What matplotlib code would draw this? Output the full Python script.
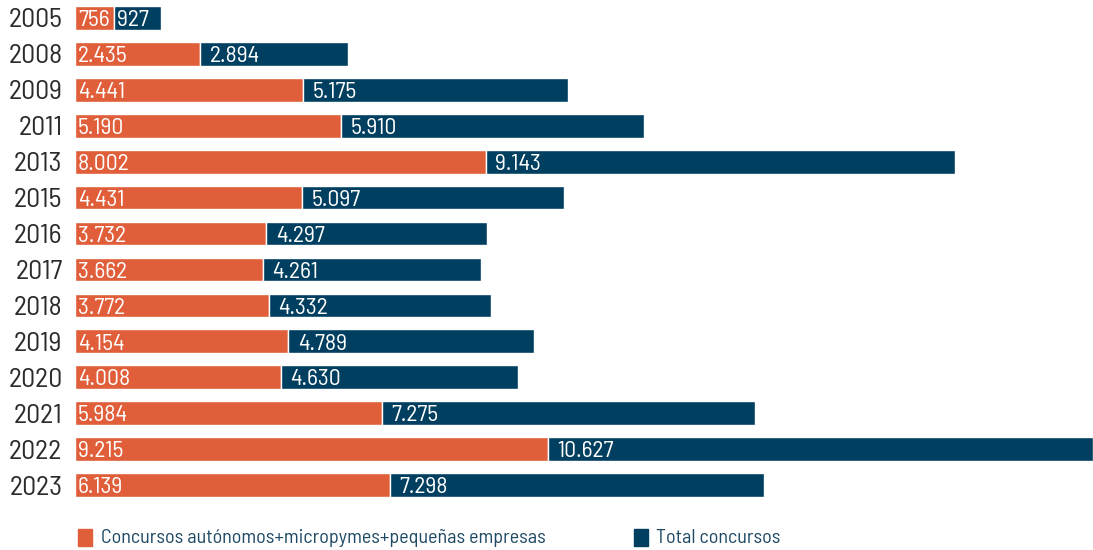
import matplotlib
matplotlib.use('Agg')
import matplotlib.pyplot as plt
from matplotlib import font_manager
from matplotlib.patches import Rectangle

# semi-condensed sans, falls back to DejaVu if missing
names = set(f.name for f in font_manager.fontManager.ttflist)
fam = 'DejaVu Sans'
for cand in ['Barlow Semi Condensed', 'Asap Condensed', 'Liberation Sans Narrow']:
    if cand in names:
        fam = cand
        break
plt.rcParams['font.family'] = [fam, 'DejaVu Sans']

years = ['2005', '2008', '2009', '2011', '2013', '2015', '2016', '2017',
         '2018', '2019', '2020', '2021', '2022', '2023']
autonomos = [756, 2435, 4441, 5190, 8002, 4431, 3732, 3662, 3772, 4154, 4008, 5984, 9215, 6139]
total = [927, 2894, 5175, 5910, 9143, 5097, 4297, 4261, 4332, 4789, 4630, 7275, 10627, 7298]
legend_labels = ['Concursos autónomos+micropymes+pequeñas empresas', 'Total concursos']

c_orange = '#E05E39'
c_navy = '#003F5F'


def fmt(v):
    return '{:,}'.format(v).replace(',', '.')


fig = plt.figure(figsize=(10.93, 5.5), dpi=100)
ax = fig.add_axes([0.0686, 0.0855, 0.9314, 0.9145])

ypos = list(range(len(years)))
ax.barh(ypos, autonomos, height=0.66, color=c_orange, edgecolor='white', linewidth=1)
ax.barh(ypos, total, left=autonomos, height=0.66, color=c_navy, edgecolor='white', linewidth=1)

fs_val = 17
dy = -0.35 * fs_val  # baseline shift so digits sit in the middle of the bar
for y, a, t in zip(ypos, autonomos, total):
    ax.annotate(fmt(a), (0, y), xytext=(2, dy), textcoords='offset points',
                ha='left', va='baseline', color='white', fontsize=fs_val)
    ax.annotate(fmt(t), (a, y), xytext=(7 if t > 1000 else 2, dy), textcoords='offset points',
                ha='left', va='baseline', color='white', fontsize=fs_val)

ax.set_xlim(0, 19842)
ax.set_ylim(len(years) - 0.5, -0.5)
ax.set_yticks(ypos)
ax.set_yticklabels(years, fontsize=20, color='#2b2b2b')
ax.tick_params(axis='y', length=0, pad=9)
ax.set_xticks([])
for s in ax.spines.values():
    s.set_visible(False)

# legend
fig.patches.append(Rectangle((78 / 1093, 1 - 546 / 550), 14 / 1093, 17 / 550,
                             transform=fig.transFigure, color=c_orange))
fig.text(101 / 1093, 1 - 538 / 550, legend_labels[0], fontsize=14.5, color='#1F4A66', va='center')
fig.patches.append(Rectangle((634 / 1093, 1 - 546 / 550), 14 / 1093, 17 / 550,
                             transform=fig.transFigure, color=c_navy))
fig.text(656 / 1093, 1 - 538 / 550, legend_labels[1], fontsize=14.5, color='#1F4A66', va='center')

fig.savefig('out.png', dpi=100)
